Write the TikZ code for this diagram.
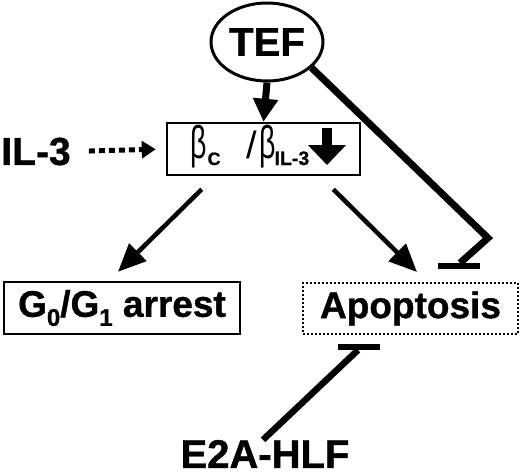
\documentclass[tikz,border=0pt]{standalone}
\usepackage{fontspec}
\setmainfont{Liberation Sans}[BoldFeatures={FakeBold=1}]
\usetikzlibrary{arrows.meta,shapes.geometric,positioning}

\begin{document}
\begin{tikzpicture}[x=1pt,y=-1pt,line join=miter]
			\tikzstyle{lbl}=[font=\bfseries\fontsize{40}{40}\selectfont, inner sep=0pt]
			\tikzstyle{box}=[draw, line width=2.5pt, inner sep=0pt, minimum height=52pt]
			\tikzstyle{act}=[-{Triangle[length=28pt,width=24pt]}, line width=4.5pt]
			\tikzstyle{inh}=[line width=6.5pt]
			\useasboundingbox (0,0) rectangle (520,475);
 					 \node[ellipse, draw, line width=3pt, minimum width=112pt, minimum height=78pt, inner sep=0pt, font=\bfseries\fontsize{40}{40}\selectfont] (TEF) at (267,42) {TEF};
 					 \node[box, minimum width=193pt] (R) at (263.5,149) {};
 					 \node[inner sep=0pt, anchor=base west] (Rtxt) at (190,158) {\fontsize{46}{46}\selectfont\scalebox{0.62}[1]{β}\kern1pt\raisebox{-7pt}{\fontsize{18}{18}\selectfont\bfseries C}\hspace{26pt}{\fontsize{38}{38}\selectfont /}\kern2pt\scalebox{0.62}[1]{β}\kern-1pt\raisebox{-7pt}{\fontsize{19.5}{19.5}\selectfont\bfseries IL-3}};
 					 \node[lbl, font=\bfseries\fontsize{39}{39}\selectfont] (IL) at (36,151.5) {IL-3};
 					 \node[box, minimum width=236pt, font=\bfseries\fontsize{37}{37}\selectfont] (G) at (122,308) {G\raisebox{-9pt}{\fontsize{24}{24}\selectfont 0}/G\raisebox{-9pt}{\fontsize{24}{24}\selectfont 1} arrest};
 					 \node[box, line width=2pt, dash pattern=on 2pt off 2pt, minimum width=215pt, minimum height=51pt, font=\bfseries\fontsize{37}{37}\selectfont] (A) at (410.5,308.5) {Apoptosis};
 					 \node[lbl] (E) at (265,454) {E2A-HLF};

					 \coordinate (dnA) at (327,128);
					 \coordinate (dnB) at (327,165);
					 \coordinate (bendT) at (488,238);
					 \coordinate (endT) at (460,263);
					 \coordinate (barTa) at (438,266);
					 \coordinate (barTb) at (480,266);
					 \coordinate (endE) at (358,350);
					 \coordinate (barEa) at (338,347);
					 \coordinate (barEb) at (380,347);

					 \draw[-{Triangle[length=23pt,width=24pt]}, line width=7pt] (TEF.south) -- (R.north);
					 \draw[-{Triangle[length=20pt,width=37pt]}, line width=10pt] (dnA) -- (dnB);
					 \draw[-{Triangle[length=14pt,width=17pt]}, line width=5pt, dash pattern=on 6pt off 4pt, shorten <=18pt, shorten >=10pt] (IL.east) -- (R.west);
					 \draw[act] ([xshift=36pt,yshift=-13pt]R.south west) -- ([xshift=-4pt,yshift=9pt]G.north);
					 \draw[act] ([xshift=-28pt,yshift=-13pt]R.south east) -- ([xshift=6.5pt,yshift=10pt]A.north);
					 \draw[inh, line width=7pt] (TEF.-30) -- (bendT) -- (endT);
					 \draw[inh] (barTa) -- (barTb);
					 \draw[inh] ([xshift=-2pt,yshift=0pt]E.north) -- (endE);
					 \draw[inh] (barEa) -- (barEb);
\end{tikzpicture}
\end{document}
